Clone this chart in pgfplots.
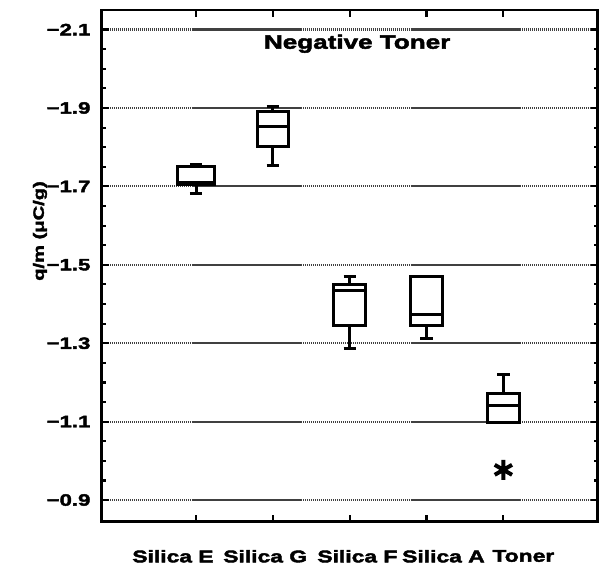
\documentclass[border=0pt]{standalone}
\usepackage{fontspec}
\setmainfont{Liberation Sans}[FakeStretch=1.35, BoldFeatures={FakeBold=2.5}]
\usepackage{pgfplots}
\pgfplotsset{compat=1.18}
\usepgfplotslibrary{statistics}
\begin{document}
\begin{tikzpicture}
\begin{axis}[
  scale only axis, width=496bp, height=512bp,
  xmin=-0.225, xmax=6.225,
  ymin=-2.15, ymax=-0.845,
  y dir=reverse,
  axis line style={line width=3pt},
  xtick={1,2,3,4,5}, xticklabels={},
  tick align=inside,
  major tick length=7bp, minor tick length=4bp,
  every tick/.style={line width=2.2pt, black},
  ytick={-2.1,-1.9,-1.7,-1.5,-1.3,-1.1,-0.9},
  yticklabels={−2.1,−1.9,−1.7,−1.5,−1.3,−1.1,−0.9},
  minor y tick num=3,
  ymajorgrids,
  major grid style={black!75, line width=2.2pt, dash pattern=on 1.5pt off 0.5pt},
  yticklabel style={font=\bfseries\fontsize{16.5}{18}\selectfont, xshift=-8bp},
  extra x ticks={0.70,1.90,3.10,4.22,5.26},
  extra x tick labels={Silica E,Silica G,Silica F,Silica A,Toner},
  extra x tick style={major tick length=0pt, xticklabel style={font=\bfseries\fontsize{17}{19}\selectfont, yshift=-25bp}},
  ylabel={q/m (μC/g)},
  ylabel style={font=\bfseries\fontsize{15}{17}\selectfont, at={(axis description cs:-0.125,0.568)}, anchor=center},
  boxplot/draw direction=y,
  boxplot/every box/.style={draw=black, line width=3pt},
  boxplot/every median/.style={draw=black, line width=3pt},
  boxplot/every whisker/.style={draw=black, line width=3pt},
]
\addplot[black, line width=3pt, boxplot prepared={draw position=1, box extend=0.49, whisker extend=0.16,
  lower whisker=-1.757, lower quartile=-1.752, median=-1.71, upper quartile=-1.705, upper whisker=-1.682}] coordinates {};
\addplot[black, line width=3pt, boxplot prepared={draw position=2, box extend=0.41, whisker extend=0.16,
  lower whisker=-1.904, lower quartile=-1.892, median=-1.853, upper quartile=-1.803, upper whisker=-1.754}] coordinates {};
\addplot[black, line width=3pt, boxplot prepared={draw position=3, box extend=0.41, whisker extend=0.16,
  lower whisker=-1.471, lower quartile=-1.451, median=-1.434, upper quartile=-1.346, upper whisker=-1.287}] coordinates {};
\addplot[black, line width=3pt, boxplot prepared={draw position=4, box extend=0.41, whisker extend=0.16,
  lower whisker=-1.469, lower quartile=-1.469, median=-1.372, upper quartile=-1.344, upper whisker=-1.312}] coordinates {};
\addplot[black, line width=3pt, mark=asterisk, mark size=10bp, every mark/.append style={line width=4pt, solid},
  boxplot prepared={draw position=5, box extend=0.41, whisker extend=0.16,
  lower whisker=-1.219, lower quartile=-1.172, median=-1.142, upper quartile=-1.097, upper whisker=-1.097}] coordinates {(0,-0.977)};
\node[font=\bfseries\fontsize{19.4}{22}\selectfont] at (axis description cs:0.515,0.934) {Negative Toner};
\end{axis}
\path (current axis.south west) -- ++(-102bp,-51bp);
\path (current axis.north east) -- ++(1bp,10bp);
\end{tikzpicture}
\end{document}
